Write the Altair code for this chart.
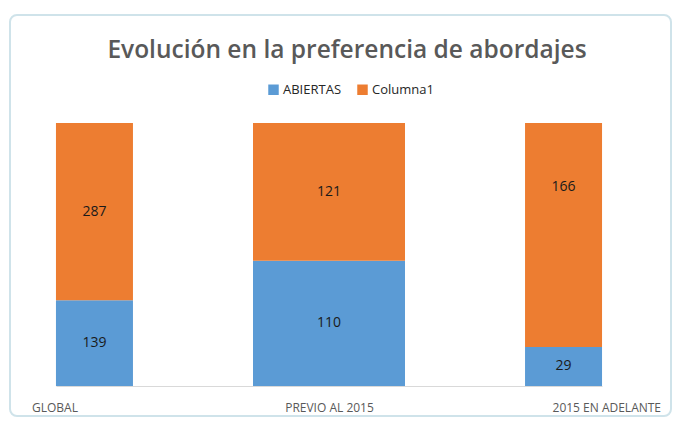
import altair as alt
import pandas as pd

categories = ["GLOBAL", "PREVIO AL 2015", "2015 EN ADELANTE"]
series = ["ABIERTAS", "Columna1"]
abiertas = [139, 110, 29]
columna1 = [287, 121, 166]
colors = ["#5B9BD5", "#ED7D31"]

rows = []
for i, c in enumerate(categories):
    rows.append({"cat": c, "serie": series[0], "ord": 0, "value": abiertas[i]})
    rows.append({"cat": c, "serie": series[1], "ord": 1, "value": columna1[i]})
df = pd.DataFrame(rows)

font = "Open Sans"

x_enc = alt.X(
    "cat:N",
    sort=categories,
    scale=alt.Scale(type="point", padding=0.164),
    axis=alt.Axis(
        title=None,
        labelAngle=0,
        ticks=False,
        domainColor="#D9D9D9",
        domainWidth=1,
        labelColor="#595959",
        labelFont=font,
        labelFontSize=12,
        labelPadding=16,
        labelAlign={
            "condition": [
                {"test": "datum.value == 'GLOBAL'", "value": "left"},
                {"test": "datum.value == '2015 EN ADELANTE'", "value": "right"},
            ],
            "value": "center",
        },
        labelOffset={
            "condition": [
                {"test": "datum.value == 'GLOBAL'", "value": -63},
                {"test": "datum.value == '2015 EN ADELANTE'", "value": 97},
            ],
            "value": 0,
        },
    ),
)

base = alt.Chart(df)

bars = base.mark_bar().encode(
    x=x_enc,
    y=alt.Y("value:Q", stack="normalize", axis=None, scale=alt.Scale(domain=[0, 1])),
    color=alt.Color(
        "serie:N",
        scale=alt.Scale(domain=series, range=colors),
        legend=alt.Legend(
            title=None,
            orient="none",
            direction="horizontal",
            legendX=211,
            legendY=-40,
            symbolType="square",
            symbolSize=110,
            symbolStrokeWidth=0,
            labelFont=font,
            labelFontSize=13,
            labelColor="#262626",
            columnPadding=14,
            labelOffset=3,
        ),
    ),
    order=alt.Order("ord:Q"),
    size=alt.condition(alt.datum.cat == "PREVIO AL 2015", alt.value(152), alt.value(77)),
)

stacked = base.transform_stack(
    stack="value",
    groupby=["cat"],
    as_=["y0", "y1"],
    offset="normalize",
    sort=[alt.SortField("ord")],
).transform_calculate(mid="(datum.y0 + datum.y1) / 2")

labels = stacked.transform_filter(
    "!(datum.cat == '2015 EN ADELANTE' && datum.ord == 1)"
).mark_text(font=font, fontSize=14, color="#1A1A1A").encode(
    x=alt.X("cat:N", sort=categories),
    y=alt.Y("mid:Q"),
    text=alt.Text("value:Q"),
)

label_moved = stacked.transform_filter(
    "datum.cat == '2015 EN ADELANTE' && datum.ord == 1"
).mark_text(font=font, fontSize=14, color="#1A1A1A", dy=-48).encode(
    x=alt.X("cat:N", sort=categories),
    y=alt.Y("mid:Q"),
    text=alt.Text("value:Q"),
)

frame = alt.Chart(pd.DataFrame({"a": [0]})).mark_rect(
    filled=False, stroke="#CFE3EA", strokeWidth=2, cornerRadius=7
).encode(
    x=alt.value(-46), x2=alt.value(615), y=alt.value(-108), y2=alt.value(293)
)

chart = alt.layer(frame, bars, labels, label_moved).resolve_scale(
    x="shared", y="shared"
).properties(
    width=546,
    height=263,
    autosize=alt.AutoSizeParams(type="none"),
    padding={"left": 48, "top": 115, "right": 71, "bottom": 32},
    title=alt.Title(
        "Evolución en la preferencia de abordajes",
        font=font,
        fontSize=24.5,
        fontWeight=600,
        color="#595959",
        anchor="middle",
        dx=18,
        offset=-49,
    ),
).configure_view(stroke=None)

chart.save("out.html", embed_options={"renderer": "svg", "actions": False})
